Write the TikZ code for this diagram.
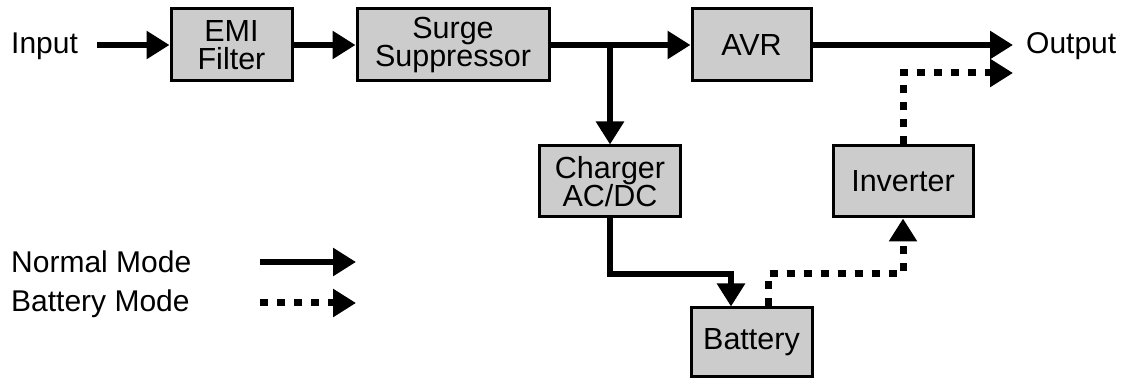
\documentclass[tikz,border=0pt]{standalone}
\usepackage{fontspec}
\setmainfont{Liberation Sans}
\usetikzlibrary{arrows.meta}
\begin{document}
\begin{tikzpicture}[x=1pt,y=-1pt,
  blk/.style={draw=black,line width=3pt,fill=black!20,inner sep=0pt,align=center,
    font=\fontsize{30.5}{28.5}\selectfont},
  lbl/.style={inner sep=0pt,anchor=west,font=\fontsize{30}{31}\selectfont},
  solidarrow/.style={line width=6.5pt,-{Triangle[length=23pt,width=27pt]}},
  dotarrow/.style={line width=7pt,dash pattern=on 8pt off 9pt,-{Triangle[length=23pt,width=27pt]}}]
\useasboundingbox (0,0) rectangle (1125,379);
% blocks
\node[blk,minimum width=121pt,minimum height=72pt] (emi) at (231.5,45) {EMI\\Filter};
\node[blk,minimum width=192pt,minimum height=72pt] (srg) at (453,45) {Surge\\Suppressor};
\node[blk,minimum width=119pt,minimum height=72pt] (avr) at (751.5,45) {AVR};
\node[blk,minimum width=141pt,minimum height=71pt] (chg) at (610,181.5) {Charger\\AC/DC};
\node[blk,minimum width=140pt,minimum height=71pt] (inv) at (903,181.5) {Inverter};
\node[blk,minimum width=121pt,minimum height=69pt] (bat) at (751.5,342.5) {Battery};
% labels
\node[lbl] (inp) at (11,46) {Input};
\node[lbl] (out) at (1026,46) {Output};
\node[lbl] (nm) at (11,262) {Normal Mode};
\node[lbl] (bm) at (11,304) {Battery Mode};
% coordinates
\coordinate (in) at (97,45);
\coordinate (br) at (610,45);
\coordinate (o1) at (1013,45);
\coordinate (o2) at (1013,73);
\coordinate (b1) at (731,274);
\coordinate (b2) at (768,274);
\coordinate (ln1) at (260,262);
\coordinate (ln2) at (356,262);
\coordinate (lb1) at (260,303);
\coordinate (lb2) at (356,303);
% normal mode
\draw[solidarrow] (in) -- (emi.west);
\draw[solidarrow] (emi.east) -- (srg.west);
\draw[solidarrow] (srg.east) -- (avr.west);
\draw[solidarrow] (avr.east) -- (o1);
\draw[solidarrow] (br) -- (chg.north);
\draw[solidarrow] (chg.south) |- (b1) -- (b1 |- bat.north);
% battery mode
\draw[dotarrow] (b2 |- bat.north) -- (b2) -| (inv.south);
\draw[dotarrow] (inv.north) |- (o2);
% legend
\draw[solidarrow] (ln1) -- (ln2);
\draw[dotarrow] (lb1) -- (lb2);
\end{tikzpicture}
\end{document}
